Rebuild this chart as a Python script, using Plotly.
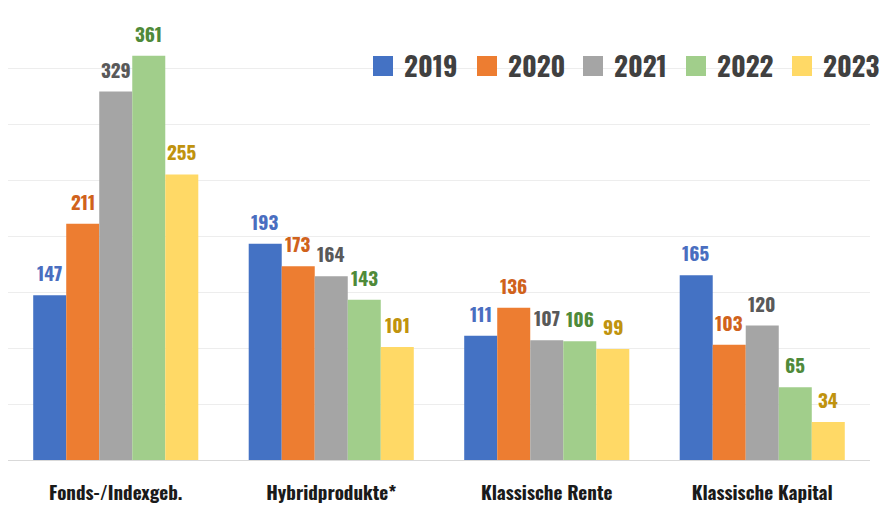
import plotly.graph_objects as go

categories = ["Fonds-/Indexgeb.", "Hybridprodukte*", "Klassische Rente", "Klassische Kapital"]
years = ["2019", "2020", "2021", "2022", "2023"]
v2019 = [147, 193, 111, 165]
v2020 = [211, 173, 136, 103]
v2021 = [329, 164, 107, 120]
v2022 = [361, 143, 106, 65]
v2023 = [255, 101, 99, 34]
series = [v2019, v2020, v2021, v2022, v2023]

bar_colors = ["#4472C4", "#ED7D31", "#A5A5A5", "#A1CE8B", "#FFD966"]
label_colors = ["#4A6EC0", "#D0621C", "#595959", "#4F8A3A", "#C0930E"]

FONT = "Oswald, 'Roboto Condensed', 'Open Sans Condensed', sans-serif"

W, H = 880, 507
L, R, T, B = 8, 10, 12, 47
bargap = 0.234
n = len(years)
bw = (1 - bargap) / n

fig = go.Figure()
xs = list(range(len(categories)))
for j, (yr, vals) in enumerate(zip(years, series)):
    fig.add_trace(go.Bar(x=xs, y=vals, name=yr, marker=dict(color=bar_colors[j], line=dict(width=0)),
                         showlegend=False, hoverinfo="x+y+name"))

annotations = []
for j, vals in enumerate(series):
    for i, v in enumerate(vals):
        annotations.append(dict(x=i + (j - (n - 1) / 2) * bw, y=v, xref="x", yref="y",
                                text=f"<b>{v}</b>", showarrow=False, yanchor="bottom", yshift=7,
                                font=dict(family=FONT, size=19, color=label_colors[j])))

# custom legend
plot_w = W - L - R
plot_h = H - T - B
def px_x(p):
    return (p - L) / plot_w
def px_y(p):
    return (H - B - p) / plot_h

leg_x = [373, 477, 583, 686, 792]
shapes = []
for j, yr in enumerate(years):
    x0 = leg_x[j]
    shapes.append(dict(type="rect", xref="paper", yref="paper",
                       x0=px_x(x0), x1=px_x(x0 + 20), y0=px_y(76), y1=px_y(56),
                       fillcolor=bar_colors[j], line=dict(width=0)))
    annotations.append(dict(x=px_x(x0 + 29), y=px_y(65), xref="paper", yref="paper",
                            text=f"<b>{yr}</b>", showarrow=False, xanchor="left", yanchor="middle",
                            font=dict(family=FONT, size=27, color="#404040")))

fig.update_layout(
    width=W, height=H,
    margin=dict(l=L, r=R, t=T, b=B, autoexpand=False),
    paper_bgcolor="white", plot_bgcolor="white",
    barmode="group", bargap=bargap, bargroupgap=0,
    showlegend=False,
    annotations=annotations, shapes=shapes,
    xaxis=dict(range=[-0.5, len(categories) - 0.5], tickvals=xs,
               ticktext=[f"<b>{c}</b>" for c in categories],
               tickfont=dict(family=FONT, size=19, color="#1a1a1a"), automargin=False,
               showgrid=False, zeroline=False, showline=False, ticks="", ticklabelstandoff=20),
    yaxis=dict(range=[0, 400], dtick=50, showgrid=True, gridcolor="#EDEDED", gridwidth=1,
               zeroline=True, zerolinecolor="#D9D9D9", zerolinewidth=1, automargin=False,
               showticklabels=False, ticks=""),
)

fig.write_html("out.html")
